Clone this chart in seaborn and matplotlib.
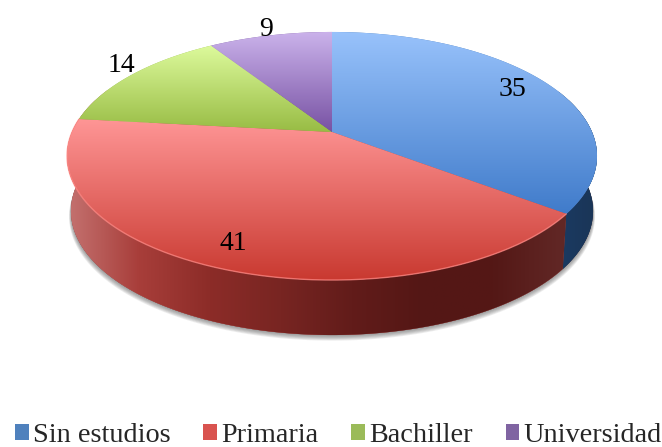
import numpy as np
import seaborn as sns
import matplotlib
matplotlib.use("Agg")
import matplotlib.pyplot as plt
from matplotlib.path import Path
from matplotlib.transforms import Transform, Affine2D

categories = ["Sin estudios", "Primaria", "Bachiller", "Universidad"]
values = [35, 41, 14, 9]

# gradient colours of the top faces, light to dark
face_colors = [["#98c2fb", "#3c78c8"], ["#ff9696", "#c8382f"], ["#ddfa9c", "#98bc44"], ["#ccb4ec", "#7650a2"]]
legend_colors = ["#4f81bd", "#d9534f", "#9bbb59", "#8064a2"]
red_wall = ["#c47270", "#a83e3a", "#8c2c28", "#782522", "#621c1a", "#541715", "#541816", "#622826"]
blue_wall = ["#1a3a62", "#1b3556"]

# perspective of the pie, in pixels of the picture
cx, cy = 332, 132
a, b, k = 260, 119.4, 0.1935
depth = 55


class Perspective(Transform):
    input_dims = 2
    output_dims = 2

    def transform_non_affine(self, values):
        values = np.asarray(values, dtype=float)
        w = 1 + k * values[:, 1]
        return np.column_stack([cx + a * values[:, 0] / w, cy - b * values[:, 1] / w])

    def transform_path_non_affine(self, path):
        # flatten the arcs at a large scale so the rim stays smooth
        big = path.transformed(Affine2D().scale(2000)).to_polygons(closed_only=True)[0] / 2000
        return Path(self.transform_non_affine(big))


persp = Perspective()


def rim(theta, scale=1.0, dy=0.0):
    pts = persp.transform_non_affine(np.column_stack([np.sin(theta), np.cos(theta)]))
    pts[:, 0] = cx + (pts[:, 0] - cx) * scale
    pts[:, 1] = pts[:, 1] + dy
    return pts


sns.set_theme(style="white")
plt.rcParams["font.family"] = ["Liberation Serif", "DejaVu Serif"]

fig = plt.figure(figsize=(6.62, 4.47), dpi=100)
ax = fig.add_axes([0, 0, 1, 1])

wedges, _ = ax.pie(values, startangle=90, counterclock=False, colors=sns.color_palette(legend_colors),
                   wedgeprops=dict(linewidth=0, zorder=3))

angles = np.cumsum([0] + values) / sum(values) * 2 * np.pi

# soft shadow under the body
circle = np.linspace(0, 2 * np.pi, 300)
for i in range(7):
    pts = rim(circle, scale=0.985 + i * 0.0012, dy=depth + 0.8 + i * 0.8)
    ax.fill(pts[:, 0], pts[:, 1], color="#505050", alpha=0.1, lw=0, zorder=0)

# side walls, blue then red
base = rim(circle, scale=0.985, dy=depth)
ax.fill(base[:, 0], base[:, 1], color="#541816", lw=0, zorder=0.5)
for start, end, colors, x0, x1 in [(1.2, angles[1], blue_wall, 560, 597),
                                   (angles[1], 5.1, red_wall, 67, 566)]:
    theta = np.linspace(start, end, 150)
    outline = np.vstack([rim(theta), rim(theta[::-1], scale=0.985, dy=depth)])
    wall = ax.fill(outline[:, 0], outline[:, 1], color=colors[0], lw=0, zorder=1)[0]
    img = ax.imshow(np.linspace(0, 1, 256)[None, :], extent=(x0, x1, 345, 100), aspect="auto",
                    cmap=sns.blend_palette(colors, as_cmap=True), zorder=1.5)
    img.set_clip_path(wall)

# top faces with vertical gradients
spans = [(32, 222), (118, 282), (45, 132), (30, 134)]
for wedge, colors, (y0, y1) in zip(wedges, face_colors, spans):
    wedge.set_transform(persp + ax.transData)
    img = ax.imshow(np.linspace(0, 1, 256)[:, None], extent=(60, 605, y1, y0), aspect="auto",
                    cmap=sns.blend_palette(colors, as_cmap=True), zorder=3.5)
    img.set_clip_path(wedge)

# light rim on the front of the red slice
front = rim(np.linspace(angles[1], angles[2], 200))
ax.plot(front[:, 0], front[:, 1], color="#ff8c88", lw=1.0, alpha=0.7, zorder=4)

for txt, x, y in zip(values, [512, 233, 121, 266], [90, 244, 66, 29]):
    ax.text(x, y, str(txt), ha="center", va="center", fontsize=20, color="black", zorder=5)

ax.set_aspect("auto")
ax.set_xlim(0, 662)
ax.set_ylim(447, 0)
ax.axis("off")

ax.legend(wedges, categories, ncol=4, loc="lower left", bbox_to_anchor=(15 / 662, -0.003), frameon=False,
          fontsize=20.3, handlelength=0.48, handleheight=0.48, handletextpad=0.15, columnspacing=1.17,
          borderpad=0, borderaxespad=0)

fig.savefig("out.png", dpi=100)
